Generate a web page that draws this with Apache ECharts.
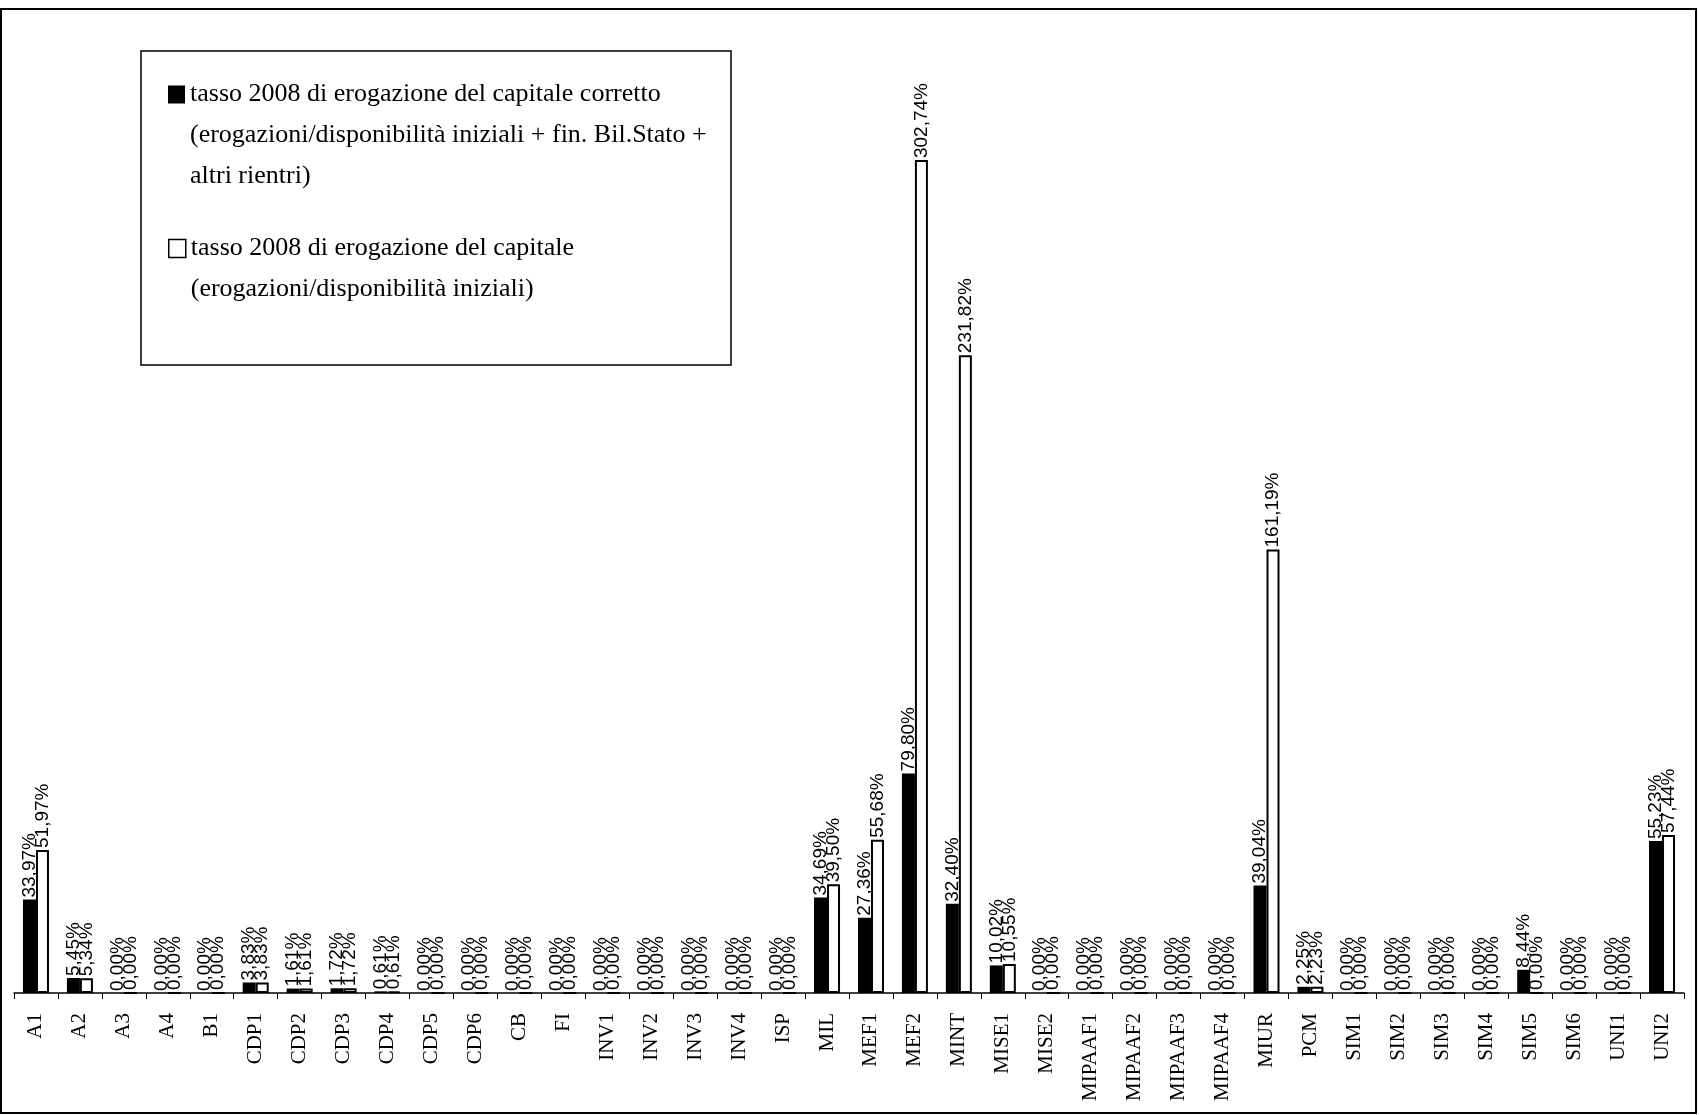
<!DOCTYPE html>
<html>
<head>
<meta charset="utf-8">
<title>tasso 2008 di erogazione del capitale</title>
<script src="https://cdn.jsdelivr.net/npm/echarts@6/dist/echarts.min.js"></script>
<style>
    html, body { margin: 0; padding: 0; background: #fff; }
    #main { width: 1699px; height: 1115px; }
</style>
</head>
<body>
<div id="main"></div>
<script>
// fondi sull'asse x
var categories = ['A1', 'A2', 'A3', 'A4', 'B1', 'CDP1', 'CDP2', 'CDP3', 'CDP4', 'CDP5', 'CDP6', 'CB', 'FI',
    'INV1', 'INV2', 'INV3', 'INV4', 'ISP', 'MIL', 'MEF1', 'MEF2', 'MINT', 'MISE1', 'MISE2',
    'MIPAAF1', 'MIPAAF2', 'MIPAAF3', 'MIPAAF4', 'MIUR', 'PCM', 'SIM1', 'SIM2', 'SIM3', 'SIM4',
    'SIM5', 'SIM6', 'UNI1', 'UNI2'];

// tasso corretto (barre nere)
var tassoCorretto = [33.97, 5.45, 0, 0, 0, 3.83, 1.61, 1.72, 0.61, 0, 0, 0, 0,
    0, 0, 0, 0, 0, 34.69, 27.36, 79.80, 32.40, 10.02, 0,
    0, 0, 0, 0, 39.04, 2.25, 0, 0, 0, 0,
    8.44, 0, 0, 55.23];

// tasso semplice (barre bianche)
var tassoCapitale = [51.97, 5.34, 0, 0, 0, 3.83, 1.61, 1.72, 0.61, 0, 0, 0, 0,
    0, 0, 0, 0, 0, 39.50, 55.68, 302.74, 231.82, 10.55, 0,
    0, 0, 0, 0, 161.19, 2.23, 0, 0, 0, 0,
    0, 0, 0, 57.44];

var nomeCorretto = 'tasso 2008 di erogazione del capitale corretto\n(erogazioni/disponibilità iniziali + fin. Bil.Stato +\naltri rientri)';
var nomeCapitale = 'tasso 2008 di erogazione del capitale\n(erogazioni/disponibilità iniziali)';

// 12,34%
function formatPct(v) {
    return v.toFixed(2).replace('.', ',') + '%';
}

var chartDom = document.getElementById('main');
var myChart = echarts.init(chartDom);
var option;

var labelStyle = {
    show: true,
    position: 'top',
    rotate: 90,
    align: 'left',
    verticalAlign: 'middle',
    distance: 2,
    color: '#000',
    fontFamily: 'Liberation Sans',
    fontSize: 19,
    formatter: function (p) { return formatPct(p.value); }
};

var legendText = {
    color: '#000',
    fontFamily: 'Liberation Serif',
    fontSize: 26,
    lineHeight: 41
};

option = {
    backgroundColor: '#fff',
    animation: false,
    graphic: [
        // cornice esterna
        { type: 'rect', shape: { x: 1, y: 9, width: 1695, height: 1104 },
          style: { fill: 'none', stroke: '#000', lineWidth: 2 }, z: 0 },
        // riquadro legenda
        { type: 'rect', shape: { x: 141, y: 51, width: 590, height: 314 },
          style: { fill: '#fff', stroke: '#000', lineWidth: 1.5 }, z: 0 }
    ],
    // due legende separate, le righe vuote allineano il simbolo alla prima riga
    legend: [
        {
            data: [nomeCorretto],
            left: 168, top: -8, padding: 0,
            itemWidth: 17, itemHeight: 18,
            selectedMode: false,
            icon: 'rect',
            textStyle: legendText,
            formatter: function (n) { return '\n\n' + n; }
        },
        {
            data: [nomeCapitale],
            left: 168, top: 187, padding: 0,
            itemWidth: 17, itemHeight: 18,
            selectedMode: false,
            icon: 'rect',
            itemStyle: { borderWidth: 1.5 },
            textStyle: legendText,
            formatter: function (n) { return '\n' + n; }
        }
    ],
    grid: {
        left: 14,
        right: 15,
        top: 30,
        bottom: 122
    },
    xAxis: {
        type: 'category',
        data: categories,
        axisLine: { lineStyle: { color: '#000', width: 1.5 } },
        axisTick: { show: true, length: 6, lineStyle: { color: '#000' } },
        axisLabel: {
            interval: 0,
            rotate: 90,
            margin: 20,
            color: '#000',
            fontFamily: 'Liberation Serif',
            fontSize: 21
        }
    },
    yAxis: {
        type: 'value',
        min: 0,
        max: 350,
        show: false,
        splitLine: { show: false }
    },
    series: [
        {
            name: nomeCorretto,
            type: 'bar',
            data: tassoCorretto,
            barWidth: 13,
            barGap: '0%',
            itemStyle: { color: '#000' },
            label: labelStyle
        },
        {
            name: nomeCapitale,
            type: 'bar',
            data: tassoCapitale,
            barWidth: 13,
            itemStyle: { color: '#fff', borderColor: '#000', borderWidth: 2 },
            label: labelStyle
        }
    ]
};

option && myChart.setOption(option);
</script>
</body>
</html>
